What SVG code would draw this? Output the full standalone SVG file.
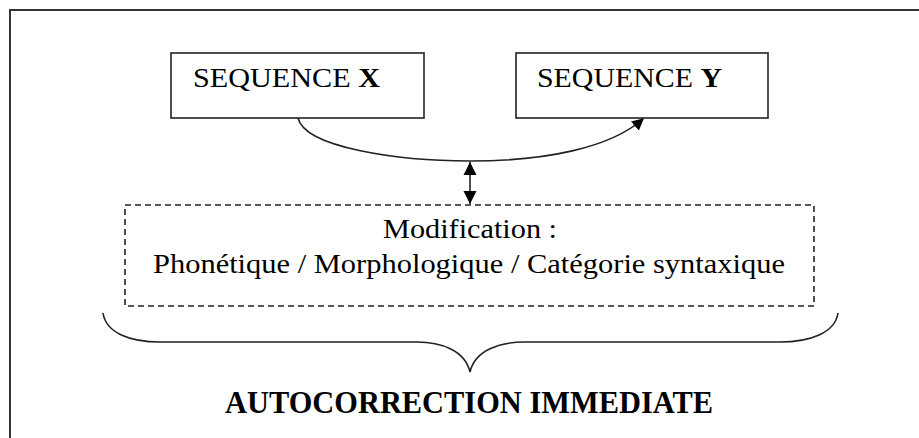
<svg xmlns="http://www.w3.org/2000/svg" width="919" height="438" viewBox="0 0 919 438">
<style>
.frame{fill:#fff;stroke:#333;stroke-width:2}
.box{fill:#fff;stroke:#222;stroke-width:1.6}
.dash{fill:none;stroke:#222;stroke-width:1.6;stroke-dasharray:6,4}
.ln{fill:none;stroke:#222;stroke-width:1.6}
text{font-family:"Liberation Serif","Times New Roman",serif;fill:#000}
.t{font-size:27px}
.m{font-size:27px;text-anchor:middle}
.title{font-size:31px;font-weight:bold}
</style>
<defs>
<marker id="ah" viewBox="0 0 10 10" refX="9" refY="5" markerWidth="12" markerHeight="12" markerUnits="userSpaceOnUse" orient="auto-start-reverse">
<path d="M0,0 L10,5 L0,10 z" fill="#000"/>
</marker>
<marker id="dh" viewBox="0 0 10 10" refX="10" refY="5" markerWidth="13" markerHeight="15" markerUnits="userSpaceOnUse" orient="auto-start-reverse">
<path d="M0,0 L10,5 L0,10 z" fill="#000"/>
</marker>
</defs>
<rect x="0" y="0" width="919" height="438" fill="#fff"/>
<rect class="frame" x="10" y="10" width="920" height="440"/>
<g id="seqX">
<rect class="box" x="171" y="53" width="253" height="65"/>
<text class="t" x="193" y="87" textLength="187" lengthAdjust="spacingAndGlyphs">SEQUENCE <tspan font-weight="bold">X</tspan></text>
</g>
<g id="seqY">
<rect class="box" x="516" y="53" width="252" height="65"/>
<text class="t" x="537" y="87" textLength="185" lengthAdjust="spacingAndGlyphs">SEQUENCE <tspan font-weight="bold">Y</tspan></text>
</g>
<g id="modif">
<rect class="dash" x="125" y="205" width="689" height="101"/>
<text class="m" x="470" y="238" textLength="174" lengthAdjust="spacingAndGlyphs">Modification :</text>
<text class="m" x="469" y="273" textLength="632" lengthAdjust="spacingAndGlyphs">Phonétique / Morphologique / Catégorie syntaxique</text>
</g>
<g id="autocorrection">
<path class="ln" d="M103,313 C106,333 130,342 160,342 L417,342 C440,342 465,350 470,372 C475,350 500,342 525,342 L780,342 C810,342 835,333 838,313"/>
<text class="title" x="225" y="413" textLength="488" lengthAdjust="spacingAndGlyphs">AUTOCORRECTION IMMEDIATE</text>
</g>
<g id="connectors">
<path class="ln" d="M298,118 C305,148 400,161 470,161 C545,161 610,148 643,119" marker-end="url(#ah)"/>
<line class="ln" x1="470" y1="162" x2="470" y2="204" marker-start="url(#dh)" marker-end="url(#dh)"/>
</g>
</svg>
